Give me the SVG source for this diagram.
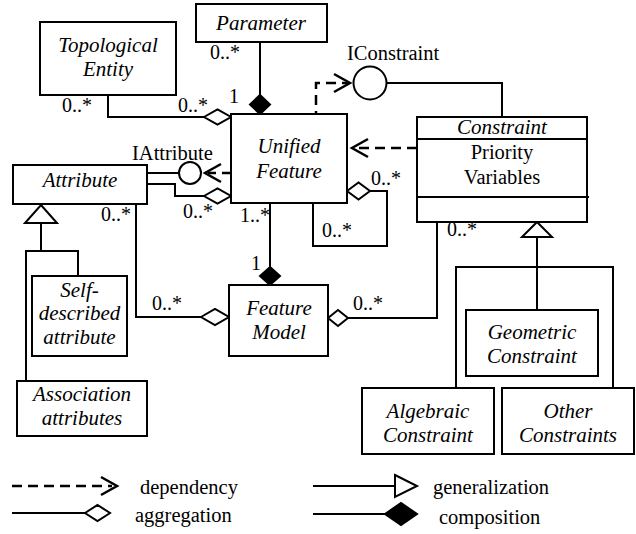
<svg xmlns="http://www.w3.org/2000/svg" width="636" height="534" viewBox="0 0 636 534">
<defs>
  <polyline id="chevR" points="-16,-9 0,0 -16,9" fill="none" stroke="#000" stroke-width="2.5"/>
  <polyline id="chevL" points="16,-9 0,0 16,9" fill="none" stroke="#000" stroke-width="2.5"/>
</defs>
<rect width="636" height="534" fill="#fff"/>

<g id="connectors" fill="none" stroke="#000" stroke-width="2">
  <path d="M108,95 V117 H204"/>
  <polygon fill="#fff" points="204,117 217.5,109.5 231,117 217.5,124.5"/>
  <path d="M260,42 V95"/>
  <polygon fill="#000" points="260,95 270,104.5 260,114 250,104.5"/>
  <path d="M278,115 H316 V83 H349" stroke-width="2.5" stroke-dasharray="10 6"/>
  <use href="#chevR" x="350" y="83"/>
  <circle fill="#fff" cx="370" cy="83" r="16.5"/>
  <path d="M386.5,83 H502 V117"/>
  <path d="M417,148 H355" stroke-width="2.5" stroke-dasharray="10 6"/>
  <use href="#chevL" x="352" y="148"/>
  <path d="M147,173 H179"/>
  <circle fill="#fff" cx="190" cy="173" r="11"/>
  <path d="M231,173 H208" stroke-width="2.5" stroke-dasharray="9 6"/>
  <use href="#chevL" x="205" y="173"/>
  <path d="M147,184 H175 V196 H204"/>
  <polygon fill="#fff" points="204,196 217.5,188.5 231,196 217.5,203.5"/>
  <path d="M370,191 H387 V246 H313 V203"/>
  <polygon fill="#fff" points="347,191 358.5,182.5 370,191 358.5,199.5"/>
  <path d="M270,203 V267"/>
  <polygon fill="#000" points="270,267 280,276 270,285 260,276"/>
  <path d="M136,204 V317 H201"/>
  <polygon fill="#fff" points="201,317 215,309 229,317 215,325"/>
  <path d="M437,222 V318 H348"/>
  <polygon fill="#fff" points="328,318 338,310 348,318 338,326"/>
  <path d="M537,237 V310"/>
  <path d="M456,388 V267 H613 V388"/>
  <polygon fill="#fff" points="537,222 552,237 522,237"/>
  <path d="M41,223 V251"/>
  <path d="M26,381 V251 H78 V276"/>
  <polygon fill="#fff" points="41,205 57,223 25,223"/>
</g>

<g id="labels" font-size="20">
  <text font-family="Times New Roman" font-size="20.5" x="347" y="60">IConstraint</text>
  <text font-family="Times New Roman" font-size="20.5" x="132" y="160">IAttribute</text>
  <text font-family="Times New Roman" x="210" y="59">0..*</text>
  <text font-family="Times New Roman" x="229" y="103">1</text>
  <text font-family="Times New Roman" x="62" y="112">0..*</text>
  <text font-family="Times New Roman" x="178" y="112">0..*</text>
  <text font-family="Times New Roman" x="101" y="221">0..*</text>
  <text font-family="Times New Roman" x="183" y="218">0..*</text>
  <text font-family="Times New Roman" x="240" y="222">1..*</text>
  <text font-family="Times New Roman" x="371" y="185">0..*</text>
  <text font-family="Times New Roman" x="322" y="237">0..*</text>
  <text font-family="Times New Roman" x="251" y="270">1</text>
  <text font-family="Times New Roman" x="152" y="310">0..*</text>
  <text font-family="Times New Roman" x="353" y="310">0..*</text>
  <text font-family="Times New Roman" x="447" y="236">0..*</text>
</g>

<g id="topological-entity">
  <rect fill="#fff" stroke="#000" stroke-width="2" x="40" y="22" width="136" height="73"/>
  <text font-family="Times New Roman" font-size="21" font-style="italic" text-anchor="middle" x="108" y="52">Topological</text>
  <text font-family="Times New Roman" font-size="21" font-style="italic" text-anchor="middle" x="108" y="76">Entity</text>
</g>
<g id="parameter">
  <rect fill="#fff" stroke="#000" stroke-width="2" x="196" y="4" width="131" height="38"/>
  <text font-family="Times New Roman" font-size="21" font-style="italic" text-anchor="middle" x="261" y="30">Parameter</text>
</g>
<g id="unified-feature">
  <rect fill="#fff" stroke="#000" stroke-width="2" x="231" y="114" width="116" height="89"/>
  <text font-family="Times New Roman" font-size="21" font-style="italic" text-anchor="middle" x="289" y="153">Unified</text>
  <text font-family="Times New Roman" font-size="21" font-style="italic" text-anchor="middle" x="289" y="178">Feature</text>
</g>
<g id="constraint">
  <rect fill="#fff" stroke="#000" stroke-width="2" x="417" y="117" width="170" height="105"/>
  <path fill="none" stroke="#000" stroke-width="2" d="M417,139 H587 M417,197 H589"/>
  <text font-family="Times New Roman" font-size="21" font-style="italic" text-anchor="middle" x="502" y="134">Constraint</text>
  <text font-family="Times New Roman" font-size="20.5" text-anchor="middle" x="502" y="159">Priority</text>
  <text font-family="Times New Roman" font-size="20.5" text-anchor="middle" x="502" y="184">Variables</text>
</g>
<g id="attribute">
  <rect fill="#fff" stroke="#000" stroke-width="2" x="13" y="165" width="134" height="39"/>
  <text font-family="Times New Roman" font-size="21" font-style="italic" text-anchor="middle" x="80" y="187">Attribute</text>
</g>
<g id="feature-model">
  <rect fill="#fff" stroke="#000" stroke-width="2" x="229" y="285" width="99" height="71"/>
  <text font-family="Times New Roman" font-size="21" font-style="italic" text-anchor="middle" x="279" y="315">Feature</text>
  <text font-family="Times New Roman" font-size="21" font-style="italic" text-anchor="middle" x="279" y="339">Model</text>
</g>
<g id="self-described-attribute">
  <rect fill="#fff" stroke="#000" stroke-width="2" x="32" y="276" width="95" height="80"/>
  <text font-family="Times New Roman" font-size="21" font-style="italic" text-anchor="middle" x="79.5" y="297">Self-</text>
  <text font-family="Times New Roman" font-size="21" font-style="italic" text-anchor="middle" x="79.5" y="320">described</text>
  <text font-family="Times New Roman" font-size="21" font-style="italic" text-anchor="middle" x="79.5" y="344">attribute</text>
</g>
<g id="association-attributes">
  <rect fill="#fff" stroke="#000" stroke-width="2" x="17" y="381" width="130" height="55"/>
  <text font-family="Times New Roman" font-size="21" font-style="italic" text-anchor="middle" x="82" y="401">Association</text>
  <text font-family="Times New Roman" font-size="21" font-style="italic" text-anchor="middle" x="82" y="425">attributes</text>
</g>
<g id="geometric-constraint">
  <rect fill="#fff" stroke="#000" stroke-width="2" x="466" y="310" width="132" height="66"/>
  <text font-family="Times New Roman" font-size="21" font-style="italic" text-anchor="middle" x="532" y="339">Geometric</text>
  <text font-family="Times New Roman" font-size="21" font-style="italic" text-anchor="middle" x="532" y="363">Constraint</text>
</g>
<g id="algebraic-constraint">
  <rect fill="#fff" stroke="#000" stroke-width="2" x="362" y="388" width="132" height="66"/>
  <text font-family="Times New Roman" font-size="21" font-style="italic" text-anchor="middle" x="428" y="418">Algebraic</text>
  <text font-family="Times New Roman" font-size="21" font-style="italic" text-anchor="middle" x="428" y="442">Constraint</text>
</g>
<g id="other-constraints">
  <rect fill="#fff" stroke="#000" stroke-width="2" x="502" y="388" width="132" height="66"/>
  <text font-family="Times New Roman" font-size="21" font-style="italic" text-anchor="middle" x="568" y="418">Other</text>
  <text font-family="Times New Roman" font-size="21" font-style="italic" text-anchor="middle" x="568" y="442">Constraints</text>
</g>

<g id="legend" stroke="#000" stroke-width="2" fill="none">
  <path d="M12,486 H112" stroke-width="2.5" stroke-dasharray="10 6"/>
  <use href="#chevR" x="117" y="486"/>
  <path d="M12,513 H85"/>
  <polygon fill="#fff" points="85,513 97.5,505 110,513 97.5,521"/>
  <path d="M313,486 H395"/>
  <polygon fill="#fff" points="395,475 417,486 395,497"/>
  <path d="M313,514 H385"/>
  <polygon fill="#000" points="385,514 401,503 417,514 401,525"/>
</g>
<g id="legend-text" font-size="20.5">
  <text font-family="Times New Roman" x="140" y="494">dependency</text>
  <text font-family="Times New Roman" x="135" y="522">aggregation</text>
  <text font-family="Times New Roman" x="433" y="494">generalization</text>
  <text font-family="Times New Roman" x="439" y="524">composition</text>
</g>
</svg>
